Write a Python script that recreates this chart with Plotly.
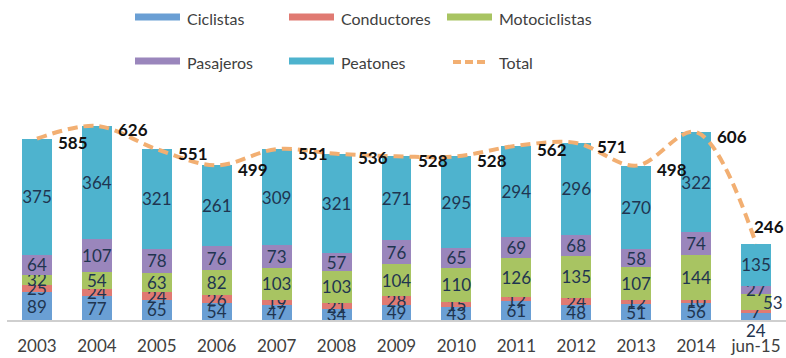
import plotly.graph_objects as go

# Categories and series
periodos = ["2003", "2004", "2005", "2006", "2007", "2008", "2009",
            "2010", "2011", "2012", "2013", "2014", "jun-15"]
ciclistas = [89, 77, 65, 54, 47, 34, 49, 43, 61, 48, 51, 56, 24]
conductores = [25, 24, 24, 26, 19, 21, 28, 15, 12, 24, 12, 10, 7]
motociclistas = [32, 54, 63, 82, 103, 103, 104, 110, 126, 135, 107, 144, 53]
pasajeros = [64, 107, 78, 76, 73, 57, 76, 65, 69, 68, 58, 74, 27]
peatones = [375, 364, 321, 261, 309, 321, 271, 295, 294, 296, 270, 322, 135]
total = [585, 626, 551, 499, 551, 536, 528, 528, 562, 571, 498, 606, 246]

series = [
    ("Ciclistas", ciclistas, "#6A9FD4"),
    ("Conductores", conductores, "#E07A72"),
    ("Motociclistas", motociclistas, "#A8C462"),
    ("Pasajeros", pasajeros, "#9A86BC"),
    ("Peatones", peatones, "#4EB3CE"),
]
total_color = "#F2AF72"
label_color = "#1F3550"
FONT = "Lato"

W, H = 786, 358
ML, MR, MT, MB = 7, 0, 103, 38
PW, PH = W - ML - MR, H - MT - MB


def px_x(x):
    return (x - ML) / PW


def px_y(y):
    return (H - MB - y) / PH


fig = go.Figure()

# Labels that sit off-centre in the last column are drawn as annotations
# (annotation x uses the category index, since names like "2003" read as numbers)
offset_labels = {("Ciclistas", 12): (0, -14), ("Motociclistas", 12): (17, 0)}

annotations = []
base = [0] * len(periodos)
for name, vals, color in series:
    texts = []
    for i, v in enumerate(vals):
        if (name, i) in offset_labels:
            texts.append("")
            dx, dy = offset_labels[(name, i)]
            annotations.append(dict(
                x=i, y=base[i] + v / 2, xref="x", yref="y",
                text=str(v), showarrow=False, xshift=dx, yshift=dy,
                font=dict(family=FONT, size=17, color=label_color)))
        else:
            texts.append(str(v))
    fig.add_trace(go.Bar(
        x=periodos, y=vals, name=name, marker=dict(color=color, line_width=0),
        text=texts, textposition="inside", insidetextanchor="middle",
        textangle=0, constraintext="none",
        textfont=dict(family=FONT, size=17, color=label_color),
        hoverinfo="skip", showlegend=False))
    base = [b + v for b, v in zip(base, vals)]

fig.add_trace(go.Scatter(
    x=periodos, y=total, name="Total", mode="lines",
    line=dict(color=total_color, width=4, dash="10px,6px", shape="spline", smoothing=1),
    hoverinfo="skip", showlegend=False))

# Total labels sit to the right of each point (the last one above it)
for i, t in enumerate(total):
    last = i == len(total) - 1
    annotations.append(dict(
        x=i, y=t, xref="x", yref="y", text=f"<b>{t}</b>",
        showarrow=False, xanchor="left", yanchor="middle",
        xshift=-4 if last else 19, yshift=17 if last else -4,
        font=dict(family=FONT, size=17, color="#111111")))

# Legend drawn as swatches and labels, two rows of three
legend_cols = [135, 289, 447]
legend_rows = [17, 61]
shapes = []
entries = [(n, c) for n, _, c in series] + [("Total", total_color)]
for k, (name, color) in enumerate(entries):
    cx = legend_cols[k % 3]
    cy = legend_rows[k // 3]
    if name == "Total":
        shapes.append(dict(type="line", xref="paper", yref="paper",
                           x0=px_x(cx + 6), x1=px_x(cx + 41), y0=px_y(cy + 1), y1=px_y(cy + 1),
                           line=dict(color=color, width=4, dash="8px,4px")))
    else:
        shapes.append(dict(type="rect", xref="paper", yref="paper",
                           x0=px_x(cx), x1=px_x(cx + 45), y0=px_y(cy + 3.5), y1=px_y(cy - 3.5),
                           fillcolor=color, line_width=0))
    annotations.append(dict(
        x=px_x(cx + 50), y=px_y(cy + 2), xref="paper", yref="paper",
        xanchor="left", yanchor="middle", text=name, showarrow=False,
        font=dict(family=FONT, size=16, color="#404040")))

fig.update_layout(
    width=W, height=H, barmode="stack", bargap=0.5,
    margin=dict(l=ML, r=MR, t=MT, b=MB),
    paper_bgcolor="white", plot_bgcolor="white",
    shapes=shapes, annotations=annotations,
    xaxis=dict(type="category", showline=True, linecolor="#cfcfcf", linewidth=1.5,
               ticks="", showgrid=False, ticklabelstandoff=10,
               range=[-0.5, len(periodos) - 0.5],
               tickfont=dict(family=FONT, size=17, color="#404040")),
    yaxis=dict(visible=False, range=[0, 700], showgrid=False, zeroline=False),
)

fig.write_html("out.html")
